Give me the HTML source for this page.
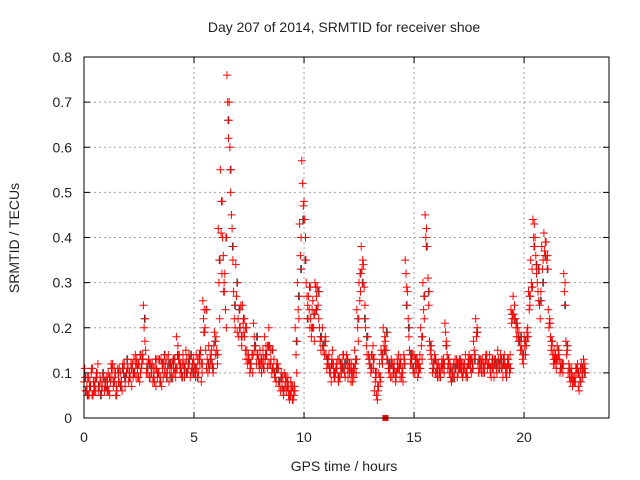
<!DOCTYPE html>
<html><head><meta charset="utf-8"><style>
html,body{margin:0;padding:0;background:#fff;}
svg{display:block;font-family:"Liberation Sans",sans-serif;}
</style></head><body>
<svg id="chart" width="640" height="480" viewBox="0 0 640 480">
<text x="344" y="32" text-anchor="middle" font-size="14" fill="#222">Day 207 of 2014, SRMTID for receiver shoe</text>
<text x="344" y="471" text-anchor="middle" font-size="14" fill="#222">GPS time / hours</text>
<text transform="translate(19,238) rotate(-90)" text-anchor="middle" font-size="14" fill="#222">SRMTID / TECUs</text>
<g id="grid"></g>
<g id="ticks"></g>
<g id="marks"></g>
<rect x="84" y="57" width="525" height="361" fill="none" stroke="#000" stroke-width="1"/>
</svg>
<script>
// values in hundredths of TECU, sampled every 0.1 h from t=0
const seriesA=[8,6,9,7,5,8,10,7,6,9, 7,10,8,12,9,6,11,8,10,9, 11,9,12,10,13,12,11,25,15,10, 9,12,8,11,10,13,9,12,11,10, 12,10,18,13,11,14,12,10,13,11, 12,14,10,15,26,20,13,11,15,16, 18,42,55,40,32,76,70,45,28,34, 22,20,25,18,15,13,12,21,16,14, 15,12,18,14,20,13,11,9,12,8, 7,10,6,5,8,4,20,30,43,57, 48,30,27,22,26,30,29,20,18,16, 14,12,10,15,9,11,13,10,14,12, 9,11,8,15,24,30,38,34,20,18, 12,14,6,5,10,15,20,17,13,11, 9,12,10,14,13,8,35,28,15,12, 14,11,10,20,30,45,38,17,13,12, 10,12,9,11,21,14,10,8,12,11, 10,13,9,12,11,14,10,17,22,12, 11,13,10,14,12,9,11,13,15,12, 11,14,9,12,24,27,22,20,17,15, 18,16,28,35,44,40,30,25,38,41, 39,24,18,14,12,16,13,11,32,17, 10,8,7,9,11,6,12,13];
const seriesB=[11,7,5,10,8,6,12,9,7,6, 9,6,12,7,10,11,8,6,12,10, 8,12,9,14,11,8,12,20,10,13, 12,8,11,9,13,7,12,10,14,12, 9,13,11,14,10,12,15,11,9,12, 10,11,13,8,22,15,10,14,12,19, 15,30,41,36,24,70,60,42,22,27, 18,25,21,15,12,10,14,18,12,13, 12,15,13,11,16,10,13,8,11,6, 9,7,8,4,6,5,14,24,36,52, 44,27,24,18,20,29,25,17,20,14, 11,14,8,12,10,13,9,12,10,14, 11,8,10,12,20,26,33,29,16,14, 10,16,8,4,12,13,16,15,11,9, 12,10,13,11,9,14,32,22,12,14, 10,13,12,16,24,40,31,15,10,14, 12,9,11,13,19,11,12,10,9,13, 12,11,10,14,9,12,13,15,18,10, 13,10,12,11,14,12,9,11,13,14, 9,12,11,10,21,23,20,18,15,13, 16,19,24,30,40,36,28,22,33,37, 35,20,15,12,14,13,10,12,28,14, 12,10,9,8,12,9,10,11];
const seriesC=[6,9,8,5,7,10,6,8,9,7, 8,5,9,11,7,8,10,12,7,11, 10,7,13,9,12,10,14,17,12,9, 10,11,7,13,9,11,10,13,8,11, 11,9,16,10,12,9,13,14,10,13, 9,13,12,10,24,11,16,12,10,14, 12,22,32,30,20,62,50,35,20,19, 20,16,19,13,14,11,10,15,14,11, 10,13,16,12,15,11,9,12,7,10, 5,8,9,6,4,7,10,22,40,47, 40,25,20,24,17,27,22,15,15,18, 12,10,13,9,12,8,11,14,9,11, 10,12,9,10,17,28,35,25,14,12, 14,11,9,6,8,12,18,13,10,13, 10,8,12,9,11,13,29,18,13,10, 12,9,14,13,22,42,25,14,12,10, 9,11,13,10,17,12,9,11,13,9, 13,10,12,9,13,11,12,14,20,11, 10,12,14,12,10,11,13,10,12,11, 13,10,12,14,22,25,18,19,16,12, 14,20,25,33,43,32,26,28,35,39, 36,22,16,15,11,14,12,10,30,15, 9,11,8,10,7,11,9,12];
const seriesD=[9,5,7,11,6,9,7,5,10,8, 6,9,11,8,5,10,7,11,9,13, 9,11,10,12,9,14,13,22,11,12, 11,9,13,10,8,12,14,9,12,9, 13,11,14,12,9,11,10,12,14,10, 11,9,14,12,19,24,12,13,11,17, 14,35,48,28,40,66,55,38,25,30, 24,18,22,20,13,12,14,16,18,12, 13,11,14,16,12,15,10,11,8,9, 6,9,7,5,7,6,17,27,33,44, 35,22,29,20,23,24,28,18,16,17, 13,11,12,10,11,9,12,11,12,13, 12,10,11,13,22,32,30,22,18,13, 11,13,10,7,9,14,15,19,12,12, 11,9,11,12,10,12,25,20,14,11, 13,12,11,18,27,38,28,16,11,13, 11,10,12,12,16,13,11,9,11,12, 11,12,11,10,12,13,11,13,19,13, 12,11,13,12,11,13,12,12,11,13, 12,11,13,11,23,22,21,17,18,14, 17,18,27,29,38,34,33,26,30,36, 33,21,17,13,13,15,11,12,25,16, 11,9,8,11,10,8,11,10];
const xTicks=[0,5,10,15,20];
const yTicks=[0,0.1,0.2,0.3,0.4,0.5,0.6,0.7,0.8];
const yTickLabels=["0","0.1","0.2","0.3","0.4","0.5","0.6","0.7","0.8"];
const markerT=[13.7], markerV=[0];

const L=84,R=609,T=57,B=418,XMAX=23.86,YMAX=0.8;
const xs=t=>L+(R-L)*t/XMAX;
const ys=v=>B-(B-T)*v/YMAX;
const NS="http://www.w3.org/2000/svg";
function mk(tag,attrs,parent){const e=document.createElementNS(NS,tag);for(const k in attrs)e.setAttribute(k,attrs[k]);parent.appendChild(e);return e;}
const grid=document.getElementById('grid'),ticks=document.getElementById('ticks'),marks=document.getElementById('marks');
xTicks.forEach(t=>{
  const x=xs(t);
  if(t>0){const g=mk('line',{x1:x,x2:x,y1:T,y2:B,stroke:'#a0a0a0','stroke-dasharray':'2,3'},grid);
  
  }
  mk('line',{x1:x,x2:x,y1:B,y2:B-6,stroke:'#000'},ticks);
  mk('line',{x1:x,x2:x,y1:T,y2:T+6,stroke:'#000'},ticks);
  const lb=mk('text',{x:x,y:B+24,'text-anchor':'middle','font-size':14,fill:'#222'},ticks);
  lb.textContent=String(t);
  
  
});
yTicks.forEach((v,i)=>{
  const y=ys(v);
  if(v>0&&v<YMAX){const g=mk('line',{x1:L,x2:R,y1:y,y2:y,stroke:'#a0a0a0','stroke-dasharray':'2,3'},grid);
  
  }
  mk('line',{x1:L,x2:L+6,y1:y,y2:y,stroke:'#000'},ticks);
  mk('line',{x1:R,x2:R-6,y1:y,y2:y,stroke:'#000'},ticks);
  const lb=mk('text',{x:L-12,y:y+5,'text-anchor':'end','font-size':14,fill:'#222'},ticks);
  lb.textContent=yTickLabels[i];
  
  
});
function plot(arr,off,color){
  let d='';
  arr.forEach((v,i)=>{
    const x=xs(i*0.1+off),y=ys(v/100);
    d+=`M${(x-4).toFixed(1)} ${y.toFixed(1)}h8M${x.toFixed(1)} ${(y-4).toFixed(1)}v8`;
  });
  const p=mk('path',{d:d,stroke:color,'stroke-width':1,fill:'none'},marks);
  
  
}
plot(seriesD,0.05,'#404040');
plot(seriesA,0,'#ff0000');
plot(seriesB,0.033,'#ff0000');
plot(seriesC,0.066,'#ff0000');
plot(seriesD,0.083,'#ff0000');
markerT.forEach((t,i)=>{
  const r=mk('rect',{x:xs(t)-3,y:ys(markerV[i])-3,width:6,height:6,fill:'#ff0000'},marks);
  
  
});
</script>
</body></html>
